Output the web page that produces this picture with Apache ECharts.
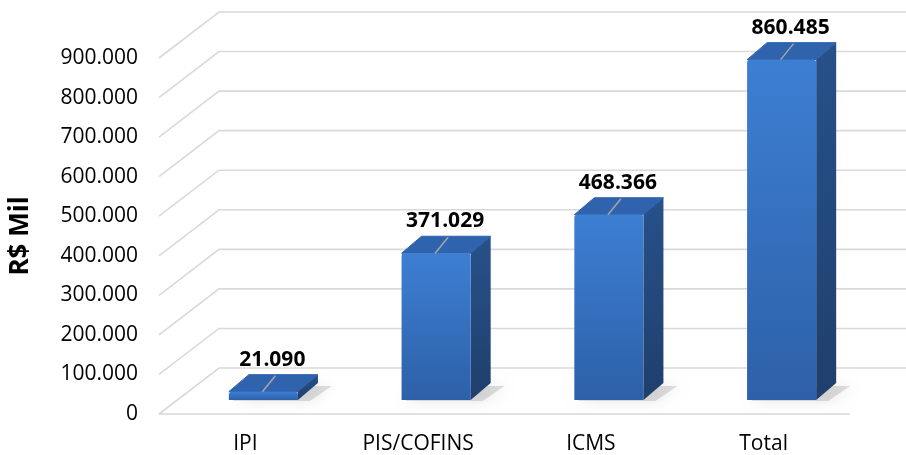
<!DOCTYPE html>
<html>
<head>
<meta charset="utf-8">
<script src="https://cdn.jsdelivr.net/npm/echarts@6/dist/echarts.min.js"></script>
<style>
  html, body { margin: 0; padding: 0; background: #fff; }
  #chart { width: 906px; height: 455px; }
</style>
</head>
<body>
<div id="chart"></div>
<script>
// dados do gráfico
const categories = ['IPI', 'PIS/COFINS', 'ICMS', 'Total'];
const values = [21090, 371029, 468366, 860485];
const yTicks = [0, 100000, 200000, 300000, 400000, 500000, 600000, 700000, 800000, 900000];

const FONT = '"Open Sans", "Liberation Sans", sans-serif';
// profundidade do "piso" 3D (parede de fundo)
const WALL_DX = 60, WALL_DY = -46;
// deslocamento da face frontal da barra e profundidade da barra
const BAR_OX = 18, BAR_OY = -14;
const BAR_DX = 20, BAR_DY = -17;

function fmt(v) {
  return String(v).replace(/\B(?=(\d{3})+(?!\d))/g, '.');
}

const chart = echarts.init(document.getElementById('chart'));

function renderGrid(params, api) {
  const cs = params.coordSys;
  const v = api.value(1);
  const y = api.coord([0, v])[1];
  const x0 = cs.x, x1 = cs.x + cs.width;
  const lineStyle = { stroke: '#d9d9d9', lineWidth: 1.6, fill: null };
  const children = [{
    type: 'polyline',
    shape: { points: [[x0, y], [x0 + WALL_DX, y + WALL_DY], [x1 + WALL_DX + 20, y + WALL_DY]] },
    style: lineStyle
  }];
  if (v === 0) {
    children.push({ type: 'line', shape: { x1: x0, y1: y, x2: x1, y2: y }, style: lineStyle });
  }
  return { type: 'group', children };
}

function renderBar(params, api) {
  const i = api.value(0);
  const v = api.value(1);
  const base = api.coord([i, 0]);
  const top = api.coord([i, v]);
  const band = api.size([1, 0])[0];
  const half = band * 0.2;
  const cx = base[0] + BAR_OX;
  const L = cx - half, R = cx + half;
  const B = base[1] + BAR_OY, T = top[1] + BAR_OY;

  return {
    type: 'group',
    children: [
      {
        // sombra no piso
        type: 'polygon',
        shape: { points: [[L + 4, B + 1], [R + 12, B + 1], [R + BAR_DX + 14, B + BAR_DY + 3], [L + BAR_DX + 4, B + BAR_DY + 3]] },
        style: { fill: 'rgba(110,110,110,0.22)', shadowBlur: 14, shadowColor: 'rgba(0,0,0,0.45)' }
      },
      {
        type: 'polygon',
        shape: { points: [[L, T], [R, T], [R + BAR_DX, T + BAR_DY], [L + BAR_DX, T + BAR_DY]] },
        style: { fill: '#2f63ae', stroke: '#2f63ae', lineWidth: 1, lineJoin: 'round' }
      },
      {
        type: 'polygon',
        shape: { points: [[R, T], [R + BAR_DX, T + BAR_DY], [R + BAR_DX, B + BAR_DY], [R, B]] },
        style: {
          fill: new echarts.graphic.LinearGradient(0, 0, 0, 1, [
            { offset: 0, color: '#27518a' },
            { offset: 1, color: '#1f3f6c' }
          ])
        }
      },
      {
        type: 'rect',
        shape: { x: L, y: T, width: R - L, height: B - T, r: [3, 3, 0, 0] },
        style: {
          fill: new echarts.graphic.LinearGradient(0, 0, 0, 1, [
            { offset: 0, color: '#3d7fd3' },
            { offset: 1, color: '#2d60a8' }
          ])
        }
      },
      {
        type: 'line',
        shape: { x1: cx - 1, y1: T, x2: cx + 12, y2: T - 16 },
        style: { stroke: '#a6a6a6', lineWidth: 1.5 }
      },
      {
        type: 'text',
        style: {
          text: fmt(v), x: cx + 9, y: T - 32,
          align: 'center', verticalAlign: 'middle',
          fontSize: 21, fontWeight: 'bold', fontFamily: FONT, fill: '#000'
        }
      }
    ]
  };
}

chart.setOption({
  animation: false,
  grid: { left: 152, right: 56, top: 58, bottom: 40 },
  xAxis: {
    type: 'category',
    data: categories,
    axisLine: { show: false },
    axisTick: { show: false },
    axisLabel: { margin: 20, fontSize: 21, fontFamily: FONT, color: '#000' }
  },
  yAxis: {
    type: 'value',
    min: 0,
    max: 900000,
    interval: 100000,
    name: 'R$ Mil',
    nameLocation: 'middle',
    nameRotate: 90,
    nameGap: 125,
    nameTextStyle: { fontSize: 26, fontWeight: 'bold', fontFamily: FONT, color: '#000' },
    axisLine: { show: false },
    axisTick: { show: false },
    splitLine: { show: false },
    axisLabel: { margin: 21, fontSize: 21, fontFamily: FONT, color: '#000', formatter: fmt }
  },
  series: [
    {
      type: 'custom',
      renderItem: renderGrid,
      data: yTicks.map(v => [0, v]),
      silent: true,
      z: 1
    },
    {
      type: 'custom',
      renderItem: renderBar,
      data: values.map((v, i) => [i, v]),
      z: 2
    }
  ]
});
</script>
</body>
</html>
